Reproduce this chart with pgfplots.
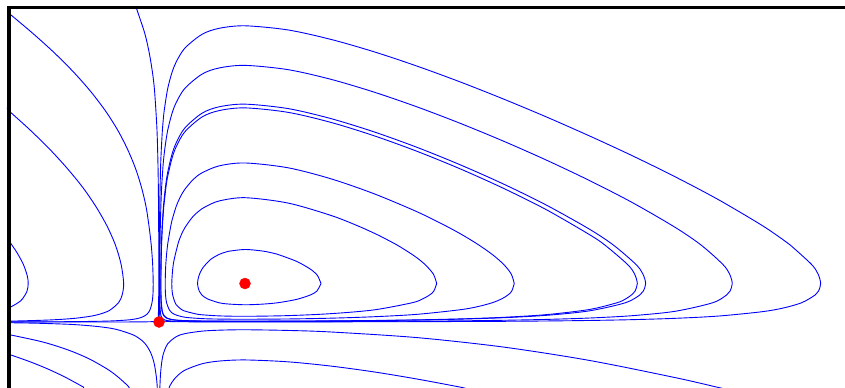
\documentclass[border=0pt]{standalone}
\usepackage{pgfplots}
\pgfplotsset{compat=1.18}
\begin{document}
\begin{tikzpicture}
\begin{axis}[
  scale only axis, width=845pt, height=387pt,
  xmin=-1.849, xmax=7.977, ymin=-1.688, ymax=8.364,
  hide axis, clip=true,
  orb/.style={blue, line width=0.9pt, smooth, tension=0.5},
]
% closed orbits (first quadrant)
\addplot[orb] coordinates {(1.884,1) (1.845,1.2) (1.8,1.305) (1.742,1.4) (1.6,1.575) (1.4,1.742) (1.305,1.8) (1.2,1.845) (1,1.884) (0.8,1.834) (0.753,1.8) (0.7,1.757) (0.6,1.625) (0.507,1.4) (0.464,1.2) (0.448,1) (0.4685,0.8) (0.499,0.7) (0.5645,0.6) (0.698,0.5) (0.8,0.4685) (1,0.448) (1.2,0.464) (1.379,0.5) (1.6,0.5876) (1.757,0.7) (1.834,0.8) (1.884,1)};
\addplot[orb] coordinates {(3.229,1) (3.189,1.25) (3.090,1.5) (3,1.666) (2.947,1.75) (2.768,2) (2.556,2.25) (2.5,2.309) (2.309,2.5) (2,2.768) (1.5,3.090) (1,3.229) (0.7,3.145) (0.545,3) (0.5,2.943) (0.4,2.753) (0.3,2.448) (0.25,2.216) (0.2172,2) (0.1661,1.5) (0.1485,1) (0.159,0.7) (0.1876,0.5) (0.2,0.4504) (0.2815,0.3) (0.4504,0.2) (0.5,0.1876) (0.7,0.159) (1,0.1485) (1.5,0.1661) (2,0.2172) (2.5,0.3149) (2.943,0.5) (3.066,0.6) (3.145,0.7) (3.195,0.8) (3.229,1)};
\addplot[orb] coordinates {(4.131,1) (4.095,1.25) (4.006,1.5) (3.878,1.75) (3.719,2) (3.537,2.25) (3.332,2.5) (3,2.864) (2.5,3.332) (2,3.719) (1.5,4.006) (1,4.131) (0.7,4.056) (0.5,3.874) (0.4,3.707) (0.3,3.446) (0.25,3.258) (0.2,3.004) (0.15,2.634) (0.1373,2.5) (0.0997,2) (0.079,1.5) (0.072,1) (0.0762,0.7) (0.0884,0.5) (0.1249,0.3) (0.1786,0.2) (0.3,0.1249) (0.5,0.0884) (0.7,0.0762) (1,0.072) (1.5,0.079) (2,0.0997) (2.5,0.1373) (3,0.1994) (3.5,0.318) (3.707,0.4) (3.874,0.5) (3.984,0.6) (4.056,0.7) (4.101,0.8) (4.131,1)};
\addplot[orb] coordinates {(0.0558,3) (0.0399,2.5) (0.0299,2) (0.0246,1.5) (0.0222,1) (0.0236,0.7) (0.0271,0.5) (0.037,0.3) (0.0505,0.2) (0.0655,0.15) (0.096,0.1) (0.15,0.0655) (0.2,0.0505) (0.3,0.037) (0.5,0.0271) (0.7,0.0236) (1,0.0222) (1.5,0.0246) (2,0.0299) (2.5,0.0399) (3,0.0558) (3.5,0.0807) (4,0.1213) (4.5,0.191) (5,0.3235) (5.325,0.5) (5.426,0.6) (5.492,0.7) (5.534,0.8) (5.562,1) (5.529,1.25) (5.446,1.5) (5.184,2) (5,2.277) (4.5,2.922) (4,3.478) (3.5,3.980) (3,4.434) (2.5,4.838) (2,5.184) (1.5,5.446) (1,5.562) (0.7,5.492) (0.5,5.325) (0.3,4.939) (0.2,4.552) (0.15,4.245) (0.1,3.770) (0.0807,3.5) (0.0558,3)};
\addplot[orb] coordinates {(0.0512,3) (0.037,2.5) (0.0279,2) (0.0225,1.5) (0.0201,1) (0.0216,0.7) (0.025,0.5) (0.0341,0.3) (0.0467,0.2) (0.0597,0.15) (0.0881,0.1) (0.15,0.0597) (0.2,0.0467) (0.3,0.0341) (0.5,0.025) (0.7,0.0216) (1,0.0201) (1.5,0.0225) (2,0.0279) (2.5,0.037) (3,0.0512) (3.5,0.0745) (4,0.111) (4.5,0.173) (5,0.288) (5.423,0.5) (5.590,0.7) (5.631,0.8) (5.659,1) (5.626,1.25) (5.544,1.5) (5.283,2) (5,2.418) (4.5,3.042) (4,3.590) (3.5,4.086) (3,4.537) (2.5,4.939) (2,5.283) (1.5,5.544) (1,5.659) (0.7,5.590) (0.5,5.423) (0.3,5.039) (0.2,4.654) (0.15,4.348) (0.1,3.878) (0.0745,3.5) (0.0512,3)};
\addplot[orb] coordinates {(0.0449,4) (0.0305,3.5) (0.0216,3) (0.0155,2.5) (0.0119,2) (0.0095,1.5) (0.0087,1) (0.0092,0.7) (0.0104,0.5) (0.0144,0.3) (0.0195,0.2) (0.0253,0.15) (0.0361,0.1) (0.05,0.0712) (0.0712,0.05) (0.1,0.0361) (0.15,0.0253) (0.2,0.0195) (0.3,0.0144) (0.5,0.0104) (0.7,0.0092) (1,0.0087) (1.5,0.0095) (2,0.0119) (2.5,0.0155) (3,0.0216) (3.5,0.0305) (4,0.0449) (4.5,0.0675) (5,0.103) (5.5,0.164) (6,0.278) (6.438,0.5) (6.599,0.7) (6.639,0.8) (6.666,1) (6.634,1.25) (6.555,1.5) (6.303,2) (6,2.461) (5.5,3.107) (5,3.681) (4.5,4.210) (4,4.703) (3.5,5.163) (3,5.588) (2.5,5.972) (2,6.303) (1.5,6.555) (1,6.666) (0.7,6.599) (0.5,6.438) (0.3,6.068) (0.2,5.700) (0.15,5.410) (0.1,4.969) (0.0675,4.5) (0.05,4.144) (0.0449,4)};
\addplot[orb] coordinates {(0.0398,5) (0.027,4.5) (0.0181,4) (0.0088,3) (0.0048,2) (0.0035,1) (0.0042,0.5) (0.0078,0.2) (0.0145,0.1) (0.028,0.05) (0.05,0.028) (0.1,0.0145) (0.2,0.0078) (0.5,0.0042) (1,0.0035) (2,0.0048) (3,0.0088) (4,0.0181) (4.5,0.027) (5,0.0398) (5.5,0.061) (6,0.0957) (6.5,0.154) (7,0.264) (7.25,0.359) (7.472,0.5) (7.629,0.7) (7.668,0.8) (7.694,1) (7.663,1.25) (7.586,1.5) (7.340,2) (7.25,2.149) (7,2.526) (6.5,3.184) (6,3.774) (5.5,4.323) (5,4.839) (4.5,5.331) (4,5.797) (3.5,6.238) (3,6.647) (2.5,7.019) (2,7.340) (1.5,7.586) (1,7.694) (0.7,7.629) (0.5,7.472) (0.3,7.112) (0.2,6.755) (0.15,6.475) (0.1,6.051) (0.061,5.5) (0.05,5.27) (0.0398,5)};
% second quadrant
\addplot[orb] coordinates {(-0.2593,8.169) (-0.2593,8.13) (-0.1658,7.5) (-0.1145,7) (-0.0772,6.5) (-0.0516,6) (-0.0238,5) (-0.0112,4) (-0.0054,3) (-0.003,2) (-0.0022,1) (-0.0089,0.1) (-0.0276,0.03) (-0.075,0.01) (-0.217,0.003) (-0.493,0.001) (-1.0,0.0003) (-1.744,0.0001)};
\addplot[orb] coordinates {(-1.744,8.01) (-1.721,7.974) (-1.469,7.5) (-1.221,7) (-0.997,6.5) (-0.799,6) (-0.628,5.5) (-0.4845,5) (-0.3686,4.5) (-0.275,4) (-0.204,3.5) (-0.151,3) (-0.1168,2.5) (-0.0904,2) (-0.0738,1.5) (-0.0675,1) (-0.0709,0.7) (-0.0815,0.5) (-0.108,0.3) (-0.1414,0.2) (-0.1737,0.15) (-0.2326,0.1) (-0.2997,0.07) (-0.381,0.05) (-0.534,0.03) (-0.682,0.02) (-0.99,0.01) (-1.362,0.005) (-1.667,0.003) (-1.744,0.0027)};
\addplot[orb] coordinates {(-1.744,5.48) (-1.721,5.436) (-1.505,5) (-1.276,4.5) (-1.071,4) (-0.888,3.5) (-0.734,3) (-0.606,2.5) (-0.507,2) (-0.441,1.5) (-0.411,1) (-0.429,0.7) (-0.471,0.5) (-0.577,0.3) (-0.695,0.2) (-0.796,0.15) (-0.963,0.1) (-1.131,0.07) (-1.305,0.05) (-1.593,0.03) (-1.744,0.024)};
\addplot[orb] coordinates {(-1.744,2.11) (-1.721,2.034) (-1.651,1.8) (-1.578,1.5) (-1.532,1.2) (-1.521,1) (-1.535,0.8) (-1.588,0.6) (-1.639,0.5) (-1.721,0.3948) (-1.744,0.375)};
% fourth quadrant
\addplot[orb] coordinates {(0.0095,-1.75) (0.0102,-1.69) (0.015,-1.447) (0.02,-1.285) (0.03,-1.072) (0.05,-0.832) (0.1,-0.570) (0.2,-0.381) (0.3,-0.302) (0.5,-0.237) (0.7,-0.212) (1,-0.201) (1.5,-0.219) (2,-0.259) (3,-0.405) (4,-0.649) (5,-0.996) (6,-1.443) (6.5,-1.698) (6.6,-1.75)};
\addplot[orb] coordinates {(0.115,-1.75) (0.12,-1.69) (0.15,-1.568) (0.2,-1.426) (0.3,-1.252) (0.5,-1.085) (0.7,-1.014) (1,-0.985) (1.5,-1.034) (2,-1.145) (2.5,-1.296) (3,-1.481) (3.5,-1.69) (3.55,-1.72)};
% third quadrant
\addplot[orb] coordinates {(-1.744,-0.0189) (-1.721,-0.0191) (-1.4,-0.0327) (-1,-0.0648) (-0.7,-0.1205) (-0.5,-0.1895) (-0.3,-0.335) (-0.2,-0.478) (-0.15,-0.595) (-0.1,-0.78) (-0.07,-0.959) (-0.05,-1.143) (-0.03,-1.441) (-0.022,-1.632) (-0.0205,-1.69) (-0.02,-1.75)};
\addplot[orb] coordinates {(-1.744,-0.33) (-1.721,-0.3377) (-1.4,-0.492) (-1.2,-0.618) (-1,-0.774) (-0.8,-0.970) (-0.6,-1.225) (-0.5,-1.385) (-0.4,-1.578) (-0.35,-1.69) (-0.34,-1.75)};
\addplot[orb] coordinates {(-1.744,-0.84) (-1.721,-0.857) (-1.5,-1.032) (-1.3,-1.213) (-1.1,-1.422) (-0.9,-1.664) (-0.88,-1.69) (-0.87,-1.75)};
% equilibria
\addplot[only marks, mark=*, mark size=5.5pt, mark options={fill=red, draw=red}] coordinates {(0,0) (1,1)};
% frame
\draw[black, line width=4pt] (axis cs:-1.744,-2) -- (axis cs:-1.744,8.169);
\draw[black, line width=3pt] (axis cs:-1.767,8.169) -- (axis cs:8.2,8.169);
\end{axis}
\pgfresetboundingbox
\path[use as bounding box] (current axis.south west) rectangle (current axis.north east);
\end{tikzpicture}
\end{document}
